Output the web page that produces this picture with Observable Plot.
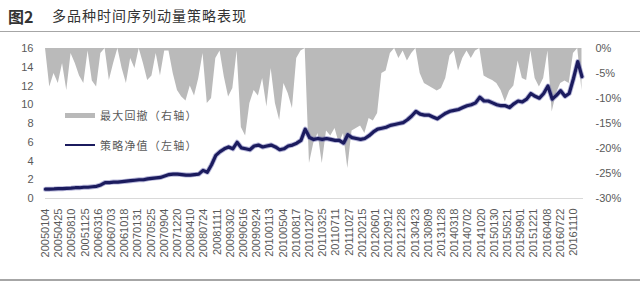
<!DOCTYPE html>
<html>
<head>
<meta charset="utf-8">
<script src="https://cdn.jsdelivr.net/npm/d3@7"></script>
<script src="https://cdn.jsdelivr.net/npm/@observablehq/plot@0.6"></script>
<style>
  html, body { margin: 0; padding: 0; background: #fff; }
  #page { position: relative; width: 640px; height: 284px; overflow: hidden; font-family: "Noto Sans CJK SC", sans-serif; }
  #title { position: absolute; left: 0; top: 0; width: 640px; height: 31px; border-bottom: 1px solid #a6a6a6; }
  #title .num { position: absolute; left: 8px; top: 4px; font-size: 16px; font-weight: bold; color: #333; }
  #title .txt { position: absolute; left: 52px; top: 5px; font-size: 14px; color: #333; letter-spacing: 1px; }
  #chart { position: absolute; left: 0; top: 32px; width: 640px; height: 248px; }
  #chart svg { position: absolute; left: 0; top: 0; }
  #bottom { position: absolute; left: 0; top: 279px; width: 640px; height: 0; border-top: 2px solid #a6a6a6; }
  .leg { position: absolute; font-size: 11px; color: #595959; letter-spacing: 1.2px; line-height: 14px; }
  .sw { position: absolute; }
</style>
</head>
<body>
<div id="page">
  <div id="title"><span class="num">图2</span><span class="txt">多品种时间序列动量策略表现</span></div>
  <div id="chart"></div>
  <div class="sw" style="left:65px;top:113px;width:30px;height:5px;background:#b9b9b9;"></div>
  <div class="leg" style="left:100px;top:108px;">最大回撤（右轴）</div>
  <div class="sw" style="left:65px;top:144px;width:30px;height:1.5px;background:#1b1b5e;"></div>
  <div class="leg" style="left:100px;top:138px;">策略净值（左轴）</div>
  <div id="bottom"></div>
</div>
<script>
// x-axis tick labels (trading dates)
const dates = ["20050104","20050425","20050810","20051125","20060316","20060703","20061018","20070131","20070525","20070904","20071220","20080410","20080724","20081111","20090302","20090616","20090924","20100113","20100504","20100817","20101207","20110325","20110711","20111027","20120215","20120601","20120912","20121228","20130423","20130809","20131128","20140318","20140702","20141020","20150130","20150521","20150901","20151221","20160408","20160722","20161110"];

// strategy NAV (left axis), sampled along the time axis
const nav = [1.0,1.0,1.02,1.05,1.05,1.08,1.1,1.15,1.15,1.2,
  1.2,1.25,1.3,1.45,1.7,1.7,1.75,1.75,1.8,1.85,
  1.9,1.95,2.0,2.0,2.1,2.15,2.2,2.25,2.4,2.55,
  2.6,2.6,2.55,2.5,2.5,2.55,2.6,3.0,2.8,3.6,
  4.6,5.0,5.3,5.5,5.3,6.0,5.4,5.3,5.2,5.6,
  5.7,5.5,5.6,5.7,5.5,5.2,5.3,5.6,5.7,5.9,
  6.2,7.4,6.5,6.3,6.4,6.3,6.4,6.3,6.2,6.2,
  5.9,6.8,6.5,6.4,6.3,6.4,6.7,7.1,7.4,7.5,
  7.6,7.8,7.9,8.0,8.1,8.4,8.8,9.3,9.0,8.9,
  8.9,8.7,8.5,8.8,9.1,9.3,9.4,9.5,9.7,9.9,
  10.0,10.2,10.8,10.4,10.4,10.2,10.0,9.9,9.9,9.7,
  10.1,10.4,10.3,10.6,11.2,10.9,10.7,11.2,12.0,10.6,
  11.0,11.5,10.9,11.2,12.8,14.6,13.0];

// max drawdown in % (right axis), same sampling
const drawdown = [0,-7.7,-5.0,-7.0,-3.0,-8.4,-1.0,-3.0,-5.5,-7.0,
  -0.5,-6.5,-7.7,-1.0,0,-6.4,-3.0,0,-4.0,-7.0,
  -2.0,-4.0,0,-3.0,-6.4,-5.5,-1.0,-5.5,-0.5,-0.5,
  -5.0,-8.4,-9.7,-10.5,-7.5,-9.5,-6.0,-1.0,-11.0,-10.0,
  -2.0,-0.5,-5.7,-9.7,-8.0,-0.5,-15.8,-17.5,-11.0,-8.4,
  -9.5,-6.0,-11.7,-4.0,-11.0,-14.4,-7.0,-9.0,-12.0,-2.0,
  -0.5,0,-23.0,-19.0,-17.0,-23.0,-16.5,-17.5,-16.0,-19.0,
  -17.0,-24.0,-16.5,-16.0,-15.5,-17.0,-14.0,-14.5,-13.0,-5.0,
  -4.5,-1.0,0,-2.0,-0.5,-2.5,-1.0,0,-5.0,-7.0,
  -7.5,-8.0,-8.5,-8.0,-6.0,-1.5,-0.5,-4.5,-2.0,-0.5,
  -2.0,-0.5,0,-5.5,-6.0,-6.4,-7.0,-8.4,-10.7,-8.5,
  -7.5,-2.5,-6.0,-6.4,-0.5,-6.0,-7.7,-6.0,-0.5,-12.7,
  -9.0,-7.0,-6.5,-7.0,-1.0,0,-8.4];

const leftTicks = [0,2,4,6,8,10,12,14,16];
const rightTicks = [0,-5,-10,-15,-20,-25,-30];
const samplesPerLabel = 3.1;

const navData = nav.map((v, i) => ({t: i / samplesPerLabel, v}));
const ddData = drawdown.map((d, i) => ({t: i / samplesPerLabel, d}));

const common = {
  width: 640, height: 248,
  marginLeft: 45, marginRight: 57, marginTop: 16, marginBottom: 82,
  style: {background: "transparent", fontFamily: "'Liberation Sans', Arial, sans-serif", fontSize: "11px", color: "#595959"}
};
const xDomain = [0, 40.76];

const back = Plot.plot({
  ...common,
  x: {domain: xDomain, axis: null},
  y: {domain: [-30, 0], axis: null},
  marks: [
    Plot.areaY(ddData, {x: "t", y1: 0, y2: "d", fill: "#bababa"}),
    Plot.axisY(rightTicks, {anchor: "right", tickSize: 0, tickPadding: 12, tickFormat: d => d + "%", label: null})
  ]
});

const front = Plot.plot({
  ...common,
  x: {domain: xDomain},
  y: {domain: [0, 16]},
  marks: [
    Plot.ruleY([0], {stroke: "#d9d9d9"}),
    Plot.lineY(navData, {x: "t", y: "v", stroke: "#5a5aa8", strokeOpacity: 0.45, strokeWidth: 5, strokeLinejoin: "round"}),
    Plot.lineY(navData, {x: "t", y: "v", stroke: "#1b1b5e", strokeWidth: 3.2, strokeLinejoin: "round"}),
    Plot.axisY(leftTicks, {anchor: "left", tickSize: 0, tickPadding: 12, label: null}),
    Plot.axisX(d3.range(dates.length), {tickSize: 0, tickPadding: 10, tickRotate: -90, tickFormat: k => dates[k], label: null})
  ]
});

document.getElementById("chart").append(back, front);
</script>
</body>
</html>
